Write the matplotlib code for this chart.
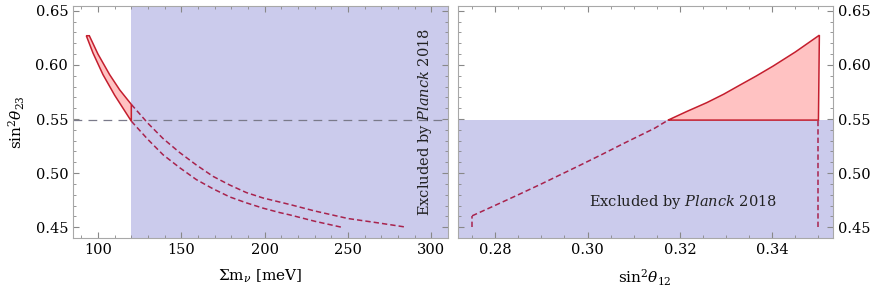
import numpy as np
import matplotlib
matplotlib.use("Agg")
import matplotlib.pyplot as plt
from matplotlib.ticker import MultipleLocator

plt.rcParams["font.family"] = ["DejaVu Serif", "DejaVu Sans"]
plt.rcParams["mathtext.fontset"] = "dejavuserif"

# left panel: sum of neutrino masses vs sin^2 theta23
PLANCK_MASS = 120  # meV, Planck 2018 bound
S23_CUT = 0.549

upper_m = [94.8, 100, 107, 113, 120, 130, 139, 149, 159, 169, 179, 189, 199, 215, 230, 250, 268, 285]
upper_s = [0.627, 0.610, 0.591, 0.577, 0.5635, 0.546, 0.532, 0.519, 0.5075, 0.497, 0.489, 0.482, 0.477, 0.471, 0.465, 0.458, 0.454, 0.450]
lower_m = [93.0, 97, 103, 110, 120, 130, 139, 149, 159, 169, 179, 189, 199, 209, 215, 230, 246]
lower_s = [0.627, 0.611, 0.591, 0.572, 0.548, 0.531, 0.517, 0.505, 0.494, 0.4855, 0.478, 0.4725, 0.4676, 0.4635, 0.4614, 0.4555, 0.450]

# right panel: sin^2 theta12 vs sin^2 theta23
s12_curve = [0.2750, 0.2800, 0.2850, 0.2900, 0.2930, 0.2980, 0.3030, 0.3080, 0.3145, 0.3175,
             0.3215, 0.3258, 0.3295, 0.3330, 0.3365, 0.3402, 0.3450, 0.3502]
s23_curve = [0.4605, 0.4702, 0.4800, 0.4900, 0.4962, 0.5065, 0.5170, 0.5278, 0.5414, 0.5491,
             0.5570, 0.5651, 0.5730, 0.5814, 0.5897, 0.5990, 0.6120, 0.6275]
S12_MIN, S12_MAX = 0.275, 0.350
S23_FLOOR = 0.450

red_line = "#c41e2e"
red_fill = "#ffc2c2"
dash_col = "#a8234d"
blue = "#cbcbec"
spine_col = "#a8a8a8"
DASH = (0, (3.5, 2))

fig = plt.figure(figsize=(8.72, 2.99), dpi=100)
ax1 = fig.add_axes([0.0837, 0.204, 0.4301, 0.776])
ax2 = fig.add_axes([0.525, 0.204, 0.430, 0.776])


def style(ax):
    for s in ax.spines.values():
        s.set_color(spine_col)
    ax.tick_params(which="both", direction="in", top=True, right=True,
                   color="#888888", labelsize=10.5)
    ax.tick_params(which="major", length=4.5, width=0.8)
    ax.tick_params(which="minor", length=2.5, width=0.6)
    ax.yaxis.set_major_locator(MultipleLocator(0.05))
    ax.yaxis.set_minor_locator(MultipleLocator(0.01))
    ax.yaxis.set_major_formatter(matplotlib.ticker.FormatStrFormatter("%.2f"))
    ax.set_ylim(0.44, 0.6545)


# ---- left
style(ax1)
ax1.set_xlim(85, 310)
ax1.xaxis.set_major_locator(MultipleLocator(50))
ax1.xaxis.set_minor_locator(MultipleLocator(10))
ax1.axvspan(PLANCK_MASS, 310, color=blue, lw=0, zorder=0)
ax1.axhline(S23_CUT, color="#7a7a8a", lw=0.9, ls=(0, (7, 5)), zorder=1)

um = np.array(upper_m); us = np.array(upper_s)
lm = np.array(lower_m); ls_ = np.array(lower_s)
ui = um <= PLANCK_MASS
li = lm <= PLANCK_MASS
band_x = np.concatenate([lm[li], um[ui][::-1]])
band_y = np.concatenate([ls_[li], us[ui][::-1]])
ax1.fill(band_x, band_y, facecolor=red_fill, edgecolor=red_line, lw=1.1, zorder=3)
ax1.plot(um[um >= PLANCK_MASS], us[um >= PLANCK_MASS], color=dash_col, lw=1.1,
         ls=DASH, zorder=2)
ax1.plot(lm[lm >= PLANCK_MASS], ls_[lm >= PLANCK_MASS], color=dash_col, lw=1.1,
         ls=DASH, zorder=2)
ax1.text(296, 0.547, r"Excluded by $\it{Planck}$ 2018", rotation=90,
         ha="center", va="center", fontsize=10.5, color="#222222")
ax1.set_xlabel("\u03a3m$_\\nu$ [meV]", fontsize=11, labelpad=8)
ax1.set_ylabel(r"$\mathrm{sin}^2\theta_{23}$", fontsize=11, labelpad=6)

# ---- right
style(ax2)
ax2.set_xlim(0.2719, 0.3531)
ax2.xaxis.set_major_locator(MultipleLocator(0.02))
ax2.xaxis.set_minor_locator(MultipleLocator(0.005))
ax2.xaxis.set_major_formatter(matplotlib.ticker.FormatStrFormatter("%.2f"))
ax2.yaxis.tick_right()
ax2.tick_params(which="both", left=True, labelleft=False, labelright=True)
ax2.axhspan(0.44, S23_CUT, color=blue, lw=0, zorder=0)

cx = np.array(s12_curve); cy = np.array(s23_curve)
inside = cy >= S23_CUT - 0.0005
px = np.concatenate([cx[inside], [S12_MAX, cx[inside][0]]])
py = np.concatenate([cy[inside], [S23_CUT, S23_CUT]])
ax2.fill(px, py, facecolor=red_fill, edgecolor=red_line, lw=1.1, zorder=3)
ax2.plot(cx[~inside].tolist() + [cx[inside][0]], cy[~inside].tolist() + [cy[inside][0]],
         color=dash_col, lw=1.1, ls=DASH, zorder=2)
ax2.plot([S12_MIN, S12_MIN], [S23_FLOOR, s23_curve[0]], color=dash_col, lw=1.1,
         ls=DASH, zorder=2)
ax2.plot([S12_MAX, S12_MAX], [S23_FLOOR, S23_CUT], color=dash_col, lw=1.1,
         ls=DASH, zorder=2)
ax2.text(0.3207, 0.4734, r"Excluded by $\it{Planck}$ 2018",
         ha="center", va="center", fontsize=10.5, color="#222222")
ax2.set_xlabel(r"$\mathrm{sin}^2\theta_{12}$", fontsize=11, labelpad=8)

fig.savefig("out.png", dpi=100)
